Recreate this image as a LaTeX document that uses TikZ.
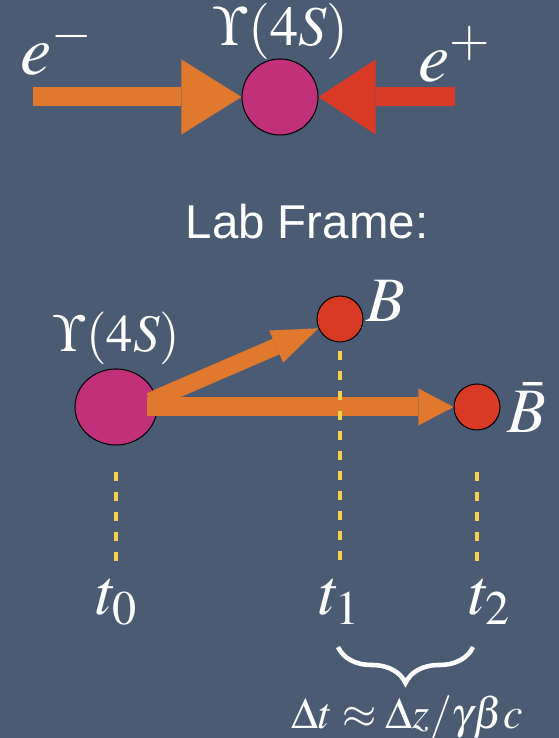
\documentclass[tikz,border=0pt]{standalone}
\usepackage{mathptmx}
\usepackage[no-math]{fontspec}
\setsansfont{Liberation Sans}
\usetikzlibrary{arrows.meta,calc,shapes.geometric,decorations.pathreplacing}
\definecolor{slate}{HTML}{4B5B73}
\definecolor{beamorange}{HTML}{E0782E}
\definecolor{beamred}{HTML}{D93A26}
\definecolor{upsred}{HTML}{C1307A}
\definecolor{dashyellow}{HTML}{F3D34A}

\begin{document}
\begin{tikzpicture}[
    ball/.style={circle, draw=black, line width=0.6pt, inner sep=0pt},
    blob/.style={ellipse, draw=black, line width=0.6pt, inner sep=0pt},
    timeline/.style={dashyellow, line width=0.08cm, dash pattern=on 0.18cm off 0.22cm},
    lbl/.style={text=white, inner sep=0pt}]
    \fill[slate] (0,0) rectangle (11.18,14.76);
    \useasboundingbox (0,0) rectangle (11.18,14.76);

    % collision
    \node[ball, fill=upsred, minimum size=1.52cm] (U) at (5.60,12.82) {};
    \coordinate (eminus) at (0.66,12.82);
    \coordinate (eplus) at (9.10,12.82);
    \draw[beamorange, line width=0.38cm, -{Triangle[length=1.2cm, width=1.5cm, line width=0pt]}] (eminus) -- (U.west);
    \draw[beamred, line width=0.38cm, -{Triangle[length=1.14cm, width=1.5cm, line width=0pt]}] (eplus) -- (U.east);
    \node[lbl, anchor=base west, font=\fontsize{40}{48}\selectfont] (em) at (0.40,13.26) {$e^-$};
    \node[lbl, anchor=base west, font=\fontsize{40}{48}\selectfont] (ep) at (8.36,13.12) {$e^+$};
    \node[lbl, anchor=base, font=\fontsize{32}{38}\selectfont] (Utext) at (5.62,13.84) {$\Upsilon(4S)$};

    \node[lbl, font=\sffamily\fontsize{27}{32}\selectfont] (lab) at (6.14,10.32) {Lab Frame:};

    % decay
    \node[blob, fill=upsred, minimum width=1.64cm, minimum height=1.52cm] (Y) at (2.32,6.62) {};
    \node[ball, fill=beamred, minimum size=0.92cm] (B) at (6.80,8.38) {};
    \node[ball, fill=beamred, minimum size=0.92cm] (Bbar) at (9.54,6.62) {};
    \coordinate (Ya) at ($(Y.center)+(0.62,0)$);
    \coordinate (Yb) at ($(Y.center)+(0.68,0.12)$);
    \draw[beamorange, line width=0.38cm, -{Triangle[length=0.7cm, width=0.74cm, line width=0pt]}] (Ya) -- (Bbar.west);
    \draw[beamorange, line width=0.34cm, -{Triangle[length=0.92cm, width=0.7cm, line width=0pt]}] (Yb) -- (B);
    \node[lbl, anchor=base, font=\fontsize{30}{36}\selectfont] (Ytext) at (2.34,7.72) {$\Upsilon(4S)$};
    \node[lbl, anchor=base west, font=\fontsize{36}{42}\selectfont] (Btext) at (7.32,8.32) {$B$};
    \node[lbl, anchor=base west, font=\fontsize{36}{42}\selectfont] (Bbartext) at (10.14,6.10) {$\bar{B}$};

    % times
    \coordinate (d0a) at ($(Y.center)+(0,-1.30)$);
    \coordinate (d0b) at ($(Y.center)+(0,-3.10)$);
    \coordinate (d1a) at ([yshift=-0.16cm]B.south);
    \coordinate (d1b) at (B |- d0b);
    \coordinate (d2a) at (Bbar |- d0a);
    \coordinate (d2b) at (Bbar |- d0b);
    \draw[timeline] (d0a) -- (d0b);
    \draw[timeline] (d1a) -- (d1b);
    \draw[timeline] (d2a) -- (d2b);
    \node[lbl, anchor=base west, font=\fontsize{37}{44}\selectfont] (t0) at (1.92,2.46) {$t_0$};
    \node[lbl, anchor=base west, font=\fontsize{37}{44}\selectfont] (t1) at (6.38,2.46) {$t_1$};
    \node[lbl, anchor=base west, font=\fontsize{37}{44}\selectfont] (t2) at (9.38,2.46) {$t_2$};

    \coordinate (br1) at (6.76,1.82);
    \coordinate (br2) at (9.46,1.82);
    \draw[white, line width=2.6pt, decorate, decoration={brace, mirror, amplitude=0.72cm}] (br1) -- (br2);
    \node[lbl, anchor=base, font=\fontsize{25}{30}\selectfont] (dt) at (8.14,0.20) {$\Delta t \approx \Delta z/\gamma\beta c$};
\end{tikzpicture}
\end{document}
